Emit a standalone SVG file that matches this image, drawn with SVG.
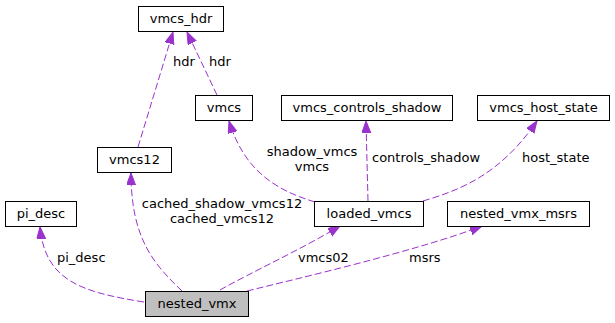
<svg xmlns="http://www.w3.org/2000/svg" width="615" height="323" viewBox="0 0 615 323">
  <style>
    .node rect { fill: #ffffff; stroke: #000000; stroke-width: 1; }
    .node.main rect { fill: #bfbfbf; }
    text { font-family: "DejaVu Sans", "Liberation Sans", sans-serif; font-size: 13px; fill: #000000; }
    .node text { text-anchor: middle; }
    .edge { fill: none; stroke: #9a32cd; stroke-width: 1; stroke-dasharray: 7,3; }
    .lbl { text-anchor: start; }
    .lblc { text-anchor: middle; }
  </style>
  <defs>
    <marker id="arrow" markerUnits="userSpaceOnUse" markerWidth="13" markerHeight="11" refX="12" refY="4.5" orient="auto" viewBox="0 0 13 11">
      <path d="M0,0 L12,4.5 L0,9 Z" fill="#9a32cd" stroke="#9a32cd" stroke-width="1" stroke-dasharray="none"/>
    </marker>
  </defs>

  <!-- connectors -->
  <g id="edges">
    <path class="edge" d="M138,147 L173,32" marker-end="url(#arrow)"/>
    <path class="edge" d="M217,95 L187,32" marker-end="url(#arrow)"/>
    <path class="edge" d="M315,202 C275,190 244,170 229,121" marker-end="url(#arrow)"/>
    <path class="edge" d="M368,201 L366,121" marker-end="url(#arrow)"/>
    <path class="edge" d="M423,201 C460,190 500,175 537,121" marker-end="url(#arrow)"/>
    <path class="edge" d="M144,302 C80,292 45,280 40,227" marker-end="url(#arrow)"/>
    <path class="edge" d="M182,291 C155,265 131,240 131,173" marker-end="url(#arrow)"/>
    <path class="edge" d="M220,290 C250,273 300,250 340,226" marker-end="url(#arrow)"/>
    <path class="edge" d="M247,291 C300,278 420,250 482,226" marker-end="url(#arrow)"/>

    <text class="lbl" x="173" y="66">hdr</text>
    <text class="lbl" x="209" y="66">hdr</text>
    <text class="lblc" x="312" y="156">shadow_vmcs</text>
    <text class="lblc" x="312" y="171">vmcs</text>
    <text class="lbl" x="372" y="162">controls_shadow</text>
    <text class="lbl" x="522" y="162">host_state</text>
    <text class="lblc" x="222" y="208">cached_shadow_vmcs12</text>
    <text class="lblc" x="222" y="223">cached_vmcs12</text>
    <text class="lbl" x="57" y="262">pi_desc</text>
    <text class="lbl" x="298" y="262">vmcs02</text>
    <text class="lbl" x="409" y="262">msrs</text>
  </g>

  <g id="vmcs_hdr" class="node">
    <rect x="138.5" y="6.5" width="85" height="25"/>
    <text x="181" y="22.5">vmcs_hdr</text>
  </g>
  <g id="vmcs" class="node">
    <rect x="195.5" y="95.5" width="57" height="25"/>
    <text x="224" y="111.5">vmcs</text>
  </g>
  <g id="vmcs_controls_shadow" class="node">
    <rect x="281.5" y="95.5" width="171" height="25"/>
    <text x="367" y="111.5">vmcs_controls_shadow</text>
  </g>
  <g id="vmcs_host_state" class="node">
    <rect x="477.5" y="95.5" width="132" height="25"/>
    <text x="543.5" y="111.5">vmcs_host_state</text>
  </g>
  <g id="vmcs12" class="node">
    <rect x="97.5" y="147.5" width="74" height="25"/>
    <text x="134.5" y="163.5">vmcs12</text>
  </g>
  <g id="pi_desc" class="node">
    <rect x="5.5" y="201.5" width="71" height="25"/>
    <text x="41" y="217.5">pi_desc</text>
  </g>
  <g id="loaded_vmcs" class="node">
    <rect x="314.5" y="201.5" width="109" height="25"/>
    <text x="369" y="217.5">loaded_vmcs</text>
  </g>
  <g id="nested_vmx_msrs" class="node">
    <rect x="447.5" y="201.5" width="142" height="25"/>
    <text x="518.5" y="217.5">nested_vmx_msrs</text>
  </g>
  <g id="nested_vmx" class="node main">
    <rect x="145.5" y="291.5" width="103" height="25"/>
    <text x="197" y="307.5">nested_vmx</text>
  </g>
</svg>
